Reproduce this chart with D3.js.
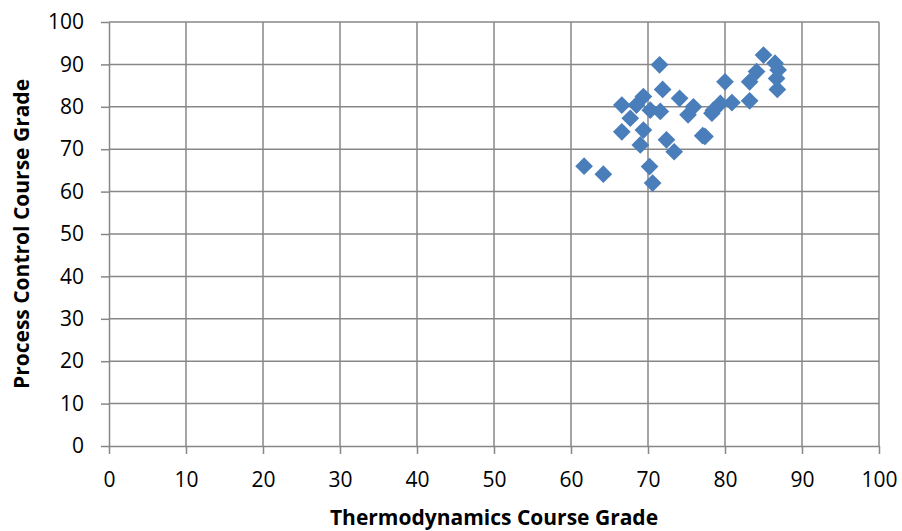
<!DOCTYPE html>
<html><head><meta charset="utf-8">
<script src="https://cdn.jsdelivr.net/npm/d3@7"></script>
<style>body{margin:0;background:#fff}svg{display:block}</style>
</head><body>
<svg id="c" width="902" height="531"></svg>
<script>
const thermo = [61.7,64.2,66.6,66.6,67.7,68.5,69.4,69.4,69.0,70.2,70.6,70.3,71.5,71.9,71.6,72.4,73.4,74.1,75.2,75.9,77.1,77.4,78.3,78.5,79.4,80.0,80.9,83.2,83.2,84.1,85.0,86.5,86.9,86.7,86.8];
const procCtrl = [66.0,64.1,74.1,80.4,77.3,80.4,82.4,74.5,71.0,65.9,62.0,79.2,89.9,84.1,78.9,72.2,69.4,82.0,78.1,80.0,73.2,73.0,78.5,79.2,80.8,85.9,81.0,81.4,85.9,88.3,92.2,90.3,88.7,86.7,84.1];
const xTicks = [0,10,20,30,40,50,60,70,80,90,100];
const yTicks = [0,10,20,30,40,50,60,70,80,90,100];
const xTitle = "Thermodynamics Course Grade";
const yTitle = "Process Control Course Grade";

const svg = d3.select("#c");
const L=109,R=879,T=22,B=446;
const x = d3.scaleLinear().domain([0,100]).range([L,R]);
const y = d3.scaleLinear().domain([0,100]).range([B,T]);
const grid="#878787";
const font="'Open Sans', sans-serif";

svg.append("g").selectAll("line.h").data(yTicks.filter(d=>d>0)).join("line")
  .attr("x1",L).attr("x2",R).attr("y1",d=>y(d)).attr("y2",d=>y(d))
  .attr("stroke",grid).attr("stroke-width",1.5);
svg.append("g").selectAll("line.v").data(xTicks.filter(d=>d>0)).join("line")
  .attr("y1",T).attr("y2",B).attr("x1",d=>x(d)).attr("x2",d=>x(d))
  .attr("stroke",grid).attr("stroke-width",1.5);

const xAxis = svg.append("g").attr("transform",`translate(0,${B})`)
  .call(d3.axisBottom(x).tickValues(xTicks).tickSize(8).tickPadding(18).tickSizeOuter(0));
const yAxis = svg.append("g").attr("transform",`translate(${L},0)`)
  .call(d3.axisLeft(y).tickValues(yTicks).tickSize(8).tickPadding(17).tickSizeOuter(0));
[xAxis,yAxis].forEach(g=>{
  g.select(".domain").attr("stroke",grid).attr("stroke-width",1.5);
  g.selectAll(".tick line").attr("stroke",grid).attr("stroke-width",1.5);
  g.selectAll("text").attr("fill","#000").style("font-family",font).style("font-size","21px");
});

const diamond = d3.symbol().type(d3.symbolDiamond2).size(200);
svg.append("g").selectAll("path").data(thermo.map((t,i)=>[t,procCtrl[i]])).join("path")
  .attr("d",diamond).attr("transform",d=>`translate(${x(d[0])},${y(d[1])})`)
  .attr("fill","#4a7ebb");

svg.append("text").attr("x",494).attr("y",525).attr("text-anchor","middle")
  .style("font-family",font).style("font-size","21px").style("font-weight","bold").text(xTitle);
svg.append("text").attr("transform",`translate(29,${(T+B)/2}) rotate(-90)`).attr("text-anchor","middle")
  .style("font-family",font).style("font-size","21px").style("font-weight","bold").text(yTitle);
</script>
</body></html>
